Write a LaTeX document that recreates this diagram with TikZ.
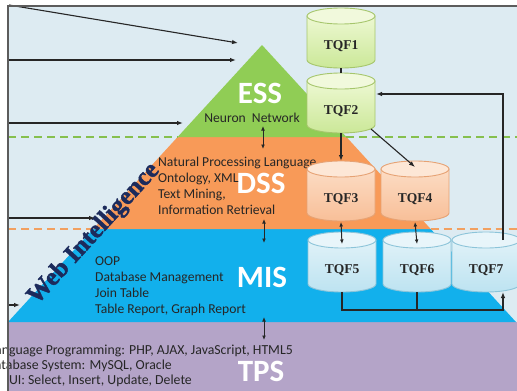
\documentclass[tikz,border=0pt]{standalone}
\usepackage{fontspec}
\setmainfont{Carlito}
\newfontfamily\timesfont{Liberation Serif}
\newfontfamily\wifont{Liberation Serif}[FakeBold=1.6]
\usetikzlibrary{arrows.meta,calc}

\definecolor{bgblue}{HTML}{DDEBF2}
\definecolor{essgreen}{HTML}{90CD55}
\definecolor{dssorange}{HTML}{F89A58}
\definecolor{misblue}{HTML}{12B0EC}
\definecolor{tpspurple}{HTML}{B4A4C8}
\definecolor{framegray}{HTML}{5C5C5C}
\definecolor{inkgray}{HTML}{262626}
\definecolor{greendash}{HTML}{86C04E}
\definecolor{orangedash}{HTML}{F2A060}
\definecolor{wiblue}{HTML}{1C2B5C}
% cylinder tones
\definecolor{gTop}{HTML}{F1F9DC}
\definecolor{gA}{HTML}{EDF8D2}
\definecolor{gB}{HTML}{CBE898}
\definecolor{gLine}{HTML}{A6C66C}
\definecolor{oTop}{HTML}{FDE7D6}
\definecolor{oA}{HTML}{FCDCC4}
\definecolor{oB}{HTML}{F8BF98}
\definecolor{oLine}{HTML}{E6A274}
\definecolor{bTop}{HTML}{E8F5FA}
\definecolor{bA}{HTML}{E0F2F8}
\definecolor{bB}{HTML}{BDE3F1}
\definecolor{bLine}{HTML}{8CC4D9}

\tikzset{
  frameline/.style={draw=framegray, line width=1.3pt},
  inarrow/.style={draw=inkgray, line width=1.1pt, -{Latex[length=6pt,width=4.5pt]}},
  biarrow/.style={draw=inkgray, line width=1pt, {Latex[length=4.5pt,width=3.8pt]}-{Latex[length=4.5pt,width=3.8pt]}},
  link/.style={draw=inkgray, line width=1.1pt},
  linkarrow/.style={link, -{Latex[length=6pt,width=4.5pt]}},
  layerdash/.style={line width=1.3pt, dash pattern=on 8pt off 5pt},
  layerlabel/.style={font=\bfseries\fontsize{31}{31}\selectfont, text=white, inner sep=0pt, anchor=base},
  smalltext/.style={font=\fontsize{13.6}{15}\selectfont, text=inkgray, inner sep=0pt, anchor=base west},
  tpstext/.style={font=\fontsize{13.8}{15}\selectfont, text=inkgray, inner sep=0pt, anchor=base east},
  cylbox/.style={minimum width=68pt, minimum height=60pt, inner sep=0pt, outer sep=0pt},
  cyllabel/.style={font=\timesfont\bfseries\fontsize{13.5}{14}\selectfont, text=inkgray, inner sep=0pt},
  gbody/.style={top color=gA, bottom color=gB, draw=gLine, line width=0.9pt},
  gtop/.style={fill=gTop, draw=gLine, line width=0.9pt},
  obody/.style={top color=oA, bottom color=oB, draw=oLine, line width=0.9pt},
  otop/.style={fill=oTop, draw=oLine, line width=0.9pt},
  bbody/.style={top color=bA, bottom color=bB, draw=bLine, line width=0.9pt},
  btop/.style={fill=bTop, draw=bLine, line width=0.9pt},
}

% database cylinder: name, x, y, label, body style, top style
\newcommand\dbcyl[6]{%
  \node[cylbox] (#1) at (#2,#3) {};
  \path[#5] ($(#1.north west)+(0,8)$) -- ($(#1.south west)+(0,-8)$)
    arc[start angle=180, end angle=0, x radius=34, y radius=8]
    -- ($(#1.north east)+(0,8)$) -- cycle;
  \path[#6] ($(#1.north)+(0,8)$) ellipse[x radius=34, y radius=8];
  \node[cyllabel] (#1-label) at ($(#1.center)+(0,8)$) {#4};
}

\begin{document}
\begin{tikzpicture}[x=1pt, y=-1pt]
\useasboundingbox (0,0) rectangle (517,391);
\clip (0,0) rectangle (517,391);

% canvas
\fill[white] (0,0) rectangle (517,391);
\fill[bgblue] (8,6) rectangle (517,391);

% pyramid layers
\fill[tpspurple] (8,322) rectangle (517,391);
\fill[misblue] (8,322) -- (93.3,229) -- (430.7,229) -- (516,322) -- cycle;
\fill[dssorange] (93.3,229) -- (177.6,137) -- (346.4,137) -- (430.7,229) -- cycle;
\fill[essgreen] (177.6,137) -- (262,45) -- (346.4,137) -- cycle;

% layer boundaries outside the pyramid
\draw[layerdash, greendash] (8,137) -- (177.6,137);
\draw[layerdash, greendash] (346.4,137) -- (517,137);
\draw[layerdash, orangedash] (8,229) -- (93.3,229);
\draw[layerdash, orangedash] (430.7,229) -- (517,229);

% layer names
\node[layerlabel] (ess) at (260,103) {ESS};
\node[layerlabel] (dss) at (261,193) {DSS};
\node[layerlabel] (mis) at (262,287) {MIS};
\node[layerlabel] (tps) at (261,381) {TPS};

% layer contents
\node[smalltext, anchor=base] (neuron) at (252,122) {Neuron\ \ Network};
\foreach \t [count=\i] in {Natural Processing Language, {Ontology, XML}, {Text Mining,}, Information Retrieval}
  \node[smalltext] (dss\i) at (158,150+16*\i) {\t};
\foreach \t [count=\i] in {OOP, Database Management, Join Table, {Table Report, Graph Report}}
  \node[smalltext] (mis\i) at (95,249+16*\i) {\t};
\node[tpstext] (tps1) at (293,354) {Language Programming: PHP, AJAX, JavaScript, HTML5};
\node[tpstext] (tps2) at (172,369) {Database System: MySQL, Oracle};
\node[tpstext] (tps3) at (192,384) {UI: Select, Insert, Update, Delete};

% links between layers
\coordinate (l1a) at (263,126); \coordinate (l1b) at (263,149);
\coordinate (l2a) at (264,219); \coordinate (l2b) at (264,243);
\coordinate (l3a) at (264,317); \coordinate (l3b) at (264,340);
\draw[biarrow] (l1a) -- (l1b);
\draw[biarrow] (l2a) -- (l2b);
\draw[biarrow] (l3a) -- (l3b);

% web intelligence label along the left flank
\node[rotate=47.5, font=\wifont\bfseries\fontsize{25.5}{25.5}\selectfont, text=wiblue, inner sep=0pt] (wi) at (94,234) {Web Intelligence};

% incoming arrows
\coordinate (in1a) at (9,5);   \coordinate (in1b) at (238,43);
\coordinate (in2a) at (8,60);  \coordinate (in2b) at (236,60);
\coordinate (in3a) at (8,123); \coordinate (in3b) at (183,123);
\coordinate (in4a) at (8,218); \coordinate (in4b) at (95,218);
\coordinate (in5a) at (8,305); \coordinate (in5b) at (20,305);
\foreach \k in {1,...,5} \draw[inarrow] (in\k a) -- (in\k b);

% data stores
\dbcyl{tqf1}{341}{38}{TQF1}{gbody}{gtop}
\dbcyl{tqf2}{341}{103}{TQF2}{gbody}{gtop}
\dbcyl{tqf3}{341}{191}{TQF3}{obody}{otop}
\dbcyl{tqf4}{415}{191}{TQF4}{obody}{otop}
\dbcyl{tqf5}{342}{262}{TQF5}{bbody}{btop}
\dbcyl{tqf6}{417}{262}{TQF6}{bbody}{btop}
\dbcyl{tqf7}{486}{262}{TQF7}{bbody}{btop}

% store connections
\draw[link] (tqf1.south) -- (tqf2.north);
\draw[linkarrow] (tqf2.south) -- (tqf3.north);
\draw[linkarrow] ($(tqf2.south east)+(-4,-4)$) -- ($(tqf4.north)+(0,6)$);
\draw[biarrow] ($(tqf3.south)+(0,1)$) -- ($(tqf5.north)+(0,12)$);
\draw[biarrow] ($(tqf4.south)+(0,1)$) -- ($(tqf6.north)+(0,12)$);
\draw[linkarrow] ($(tqf7.north)+(17,8)$) |- ($(tqf2.east)+(1,-9)$);
\coordinate (bus) at ($(tqf5.south)+(0,18)$);
\draw[linkarrow] (tqf5.south) -- (bus) -| ($(tqf7.south)+(17,0)$);
\draw[link] (tqf6.south) -- (tqf6.south |- bus);

% frame
\draw[frameline] (8,391) -- (8,6) -- (517,6);
\end{tikzpicture}
\end{document}
